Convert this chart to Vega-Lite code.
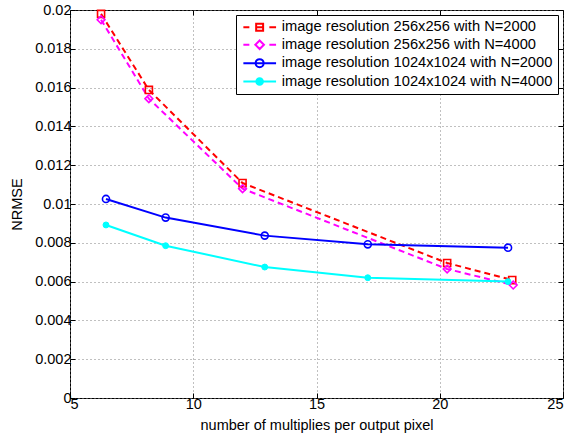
{
  "$schema": "https://vega.github.io/schema/vega-lite/v6.json",
  "width": 493,
  "height": 388,
  "autosize": "none",
  "padding": {"left": 70, "top": 10, "right": 8, "bottom": 38},
  "background": "white",
  "config": {
    "font": "Liberation Sans",
    "view": {"stroke": "black", "strokeWidth": 1},
    "axis": {
      "labelFont": "Liberation Sans", "labelFontSize": 14.5, "labelColor": "black",
      "titleFont": "Liberation Sans", "titleFontSize": 14.5, "titleFontWeight": "normal", "titleColor": "black",
      "domain": false, "tickColor": "black", "tickSize": -5, "tickWidth": 1,
      "gridColor": "#808080", "gridDash": [1, 3], "gridOpacity": 1, "gridWidth": 1
    }
  },
  "data": {"values": [
    {"series": "image resolution 256x256 with N=2000", "x": 6.26, "y": 0.0198},
    {"series": "image resolution 256x256 with N=2000", "x": 8.2, "y": 0.01588},
    {"series": "image resolution 256x256 with N=2000", "x": 12.0, "y": 0.01108},
    {"series": "image resolution 256x256 with N=2000", "x": 20.3, "y": 0.00696},
    {"series": "image resolution 256x256 with N=2000", "x": 22.94, "y": 0.00608},
    {"series": "image resolution 256x256 with N=4000", "x": 6.26, "y": 0.0195},
    {"series": "image resolution 256x256 with N=4000", "x": 8.2, "y": 0.01543},
    {"series": "image resolution 256x256 with N=4000", "x": 12.0, "y": 0.01079},
    {"series": "image resolution 256x256 with N=4000", "x": 20.3, "y": 0.00665},
    {"series": "image resolution 256x256 with N=4000", "x": 22.98, "y": 0.00582},
    {"series": "image resolution 1024x1024 with N=2000", "x": 6.46, "y": 0.01026},
    {"series": "image resolution 1024x1024 with N=2000", "x": 8.88, "y": 0.0093},
    {"series": "image resolution 1024x1024 with N=2000", "x": 12.9, "y": 0.00837},
    {"series": "image resolution 1024x1024 with N=2000", "x": 17.08, "y": 0.00792},
    {"series": "image resolution 1024x1024 with N=2000", "x": 22.77, "y": 0.00775},
    {"series": "image resolution 1024x1024 with N=4000", "x": 6.46, "y": 0.00892},
    {"series": "image resolution 1024x1024 with N=4000", "x": 8.88, "y": 0.00785},
    {"series": "image resolution 1024x1024 with N=4000", "x": 12.9, "y": 0.00675},
    {"series": "image resolution 1024x1024 with N=4000", "x": 17.08, "y": 0.0062},
    {"series": "image resolution 1024x1024 with N=4000", "x": 22.77, "y": 0.006}
  ]},
  "layer": [
    {
      "transform": [{"filter": {"field": "series", "oneOf": ["image resolution 256x256 with N=2000", "image resolution 256x256 with N=4000"]}}],
      "mark": {"type": "line", "strokeWidth": 2, "strokeDash": [6, 4]},
      "encoding": {
        "x": {"field": "x", "type": "quantitative",
          "scale": {"domain": [5, 25], "nice": false, "zero": false},
          "axis": {"values": [5, 10, 15, 20, 25], "title": "number of multiplies per output pixel", "labelPadding": 4, "titlePadding": 8, "grid": true}},
        "y": {"field": "y", "type": "quantitative",
          "scale": {"domain": [0, 0.02], "nice": false},
          "axis": {"values": [0, 0.002, 0.004, 0.006, 0.008, 0.01, 0.012, 0.014, 0.016, 0.018, 0.02], "format": "~g", "title": "NRMSE", "labelPadding": 4, "titlePadding": 10, "grid": true}},
        "color": {"field": "series", "type": "nominal",
          "scale": {"domain": ["image resolution 256x256 with N=2000", "image resolution 256x256 with N=4000", "image resolution 1024x1024 with N=2000", "image resolution 1024x1024 with N=4000"],
                    "range": ["#ff0000", "#ff00ff", "#0000ff", "#00ffff"]},
          "legend": {
            "title": null, "orient": "top-right", "offset": 5,
            "strokeColor": "black", "fillColor": "white", "padding": 5, "rowPadding": 1.4,
            "symbolSize": 144, "labelOffset": 26, "labelFontSize": 14.7, "labelFont": "Liberation Sans",
            "labelColor": "black", "labelLimit": 400, "symbolType": "M-0.83,0H4.62",
            "encode": {"symbols": {"update": {
              "shape": {"signal": "datum.value == 'image resolution 256x256 with N=2000' ? 'M-0.83,0H0.17M1.3,-0.58H2.46V0.58H1.3ZM1.3,0H2.46M3.5,0H4.62' : datum.value == 'image resolution 256x256 with N=4000' ? 'M-0.83,0H0.17M1.88,-0.72L2.6,0L1.88,0.72L1.16,0ZM3.5,0H4.62' : datum.value == 'image resolution 1024x1024 with N=2000' ? 'M-0.83,0H4.62M2.55,0A0.67,0.67,0,1,1,1.21,0A0.67,0.67,0,1,1,2.55,0' : 'M-0.83,0H4.62M2.43,0A0.55,0.55,0,1,1,1.33,0A0.55,0.55,0,1,1,2.43,0'"},
              "fill": {"signal": "datum.value == 'image resolution 1024x1024 with N=4000' ? '#00ffff' : 'transparent'"},
              "stroke": {"signal": "datum.value == 'image resolution 256x256 with N=2000' ? '#ff0000' : datum.value == 'image resolution 256x256 with N=4000' ? '#ff00ff' : datum.value == 'image resolution 1024x1024 with N=2000' ? '#0000ff' : '#00ffff'"},
              "strokeWidth": {"value": 2},
              "strokeDash": {"value": []},
              "opacity": {"value": 1}
            }}}
          }}
      }
    },
    {
      "transform": [{"filter": {"field": "series", "oneOf": ["image resolution 1024x1024 with N=2000", "image resolution 1024x1024 with N=4000"]}}],
      "mark": {"type": "line", "strokeWidth": 2},
      "encoding": {
        "x": {"field": "x", "type": "quantitative",
          "scale": {"domain": [5, 25], "nice": false, "zero": false},
          "axis": {"orient": "top", "values": [5, 10, 15, 20, 25], "labels": false, "title": null, "grid": false}},
        "y": {"field": "y", "type": "quantitative",
          "scale": {"domain": [0, 0.02], "nice": false},
          "axis": {"orient": "right", "values": [0, 0.002, 0.004, 0.006, 0.008, 0.01, 0.012, 0.014, 0.016, 0.018, 0.02], "labels": false, "title": null, "grid": false}},
        "color": {"field": "series", "type": "nominal"}
      }
    },
    {
      "transform": [{"filter": {"field": "series", "equal": "image resolution 256x256 with N=2000"}}],
      "mark": {"type": "point", "shape": "square", "size": 50, "strokeWidth": 1.6, "stroke": "#ff0000", "fill": "transparent", "opacity": 1},
      "encoding": {
        "x": {"field": "x", "type": "quantitative", "axis": null},
        "y": {"field": "y", "type": "quantitative", "axis": null}
      }
    },
    {
      "transform": [{"filter": {"field": "series", "equal": "image resolution 256x256 with N=4000"}}],
      "mark": {"type": "point", "shape": "diamond", "size": 60, "strokeWidth": 1.6, "stroke": "#ff00ff", "fill": "transparent", "opacity": 1},
      "encoding": {
        "x": {"field": "x", "type": "quantitative", "axis": null},
        "y": {"field": "y", "type": "quantitative", "axis": null}
      }
    },
    {
      "transform": [{"filter": {"field": "series", "equal": "image resolution 1024x1024 with N=2000"}}],
      "mark": {"type": "point", "shape": "circle", "size": 50, "strokeWidth": 1.6, "stroke": "#0000ff", "fill": "transparent", "opacity": 1},
      "encoding": {
        "x": {"field": "x", "type": "quantitative", "axis": null},
        "y": {"field": "y", "type": "quantitative", "axis": null}
      }
    },
    {
      "transform": [{"filter": {"field": "series", "equal": "image resolution 1024x1024 with N=4000"}}],
      "mark": {"type": "point", "shape": "circle", "size": 35, "strokeWidth": 1, "stroke": "#00ffff", "fill": "#00ffff", "opacity": 1},
      "encoding": {
        "x": {"field": "x", "type": "quantitative", "axis": null},
        "y": {"field": "y", "type": "quantitative", "axis": null}
      }
    }
  ],
  "resolve": {"axis": {"x": "independent", "y": "independent"}}
}
